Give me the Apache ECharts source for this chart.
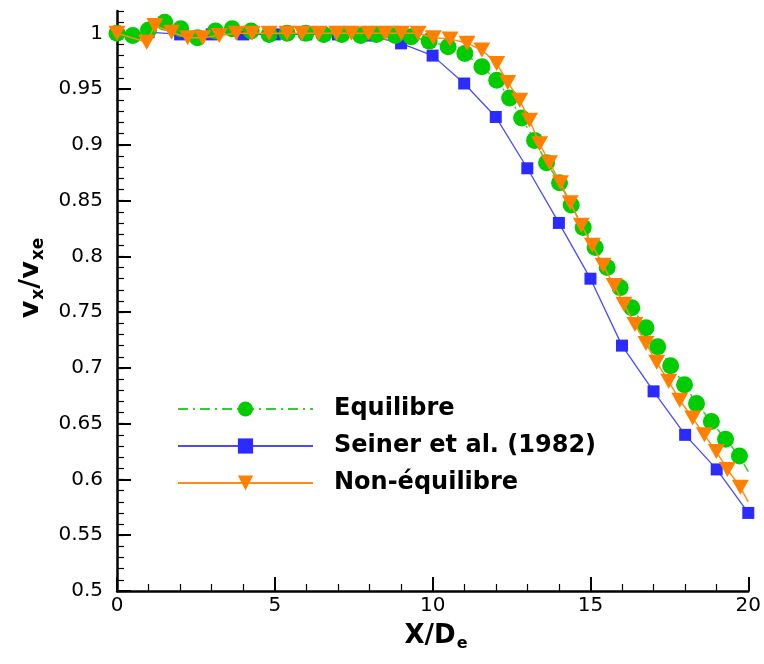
<!DOCTYPE html>
<html>
<head>
<meta charset="utf-8">
<script src="https://cdn.jsdelivr.net/npm/echarts@6/dist/echarts.min.js"></script>
<style>html,body{margin:0;padding:0;background:#fff}#c{width:764px;height:664px}</style>
</head>
<body>
<div id="c"></div>
<script>
// ---- data ----
const eqX  = [0,0.5,1.0,1.51,2.02,2.55,3.12,3.65,4.25,4.82,5.39,5.98,6.55,7.12,7.72,8.22,8.82,9.32,9.89,10.49,11.02,11.56,12.03,12.44,12.82,13.23,13.61,14.02,14.39,14.77,15.15,15.53,15.94,16.31,16.76,17.13,17.54,17.98,18.36,18.83,19.28,19.72,20.0];
const eqY  = [1.000,0.998,1.003,1.010,1.004,0.996,1.002,1.004,1.002,0.999,1.000,1.000,0.999,0.999,0.998,0.999,0.998,0.997,0.993,0.988,0.982,0.970,0.958,0.942,0.924,0.904,0.884,0.866,0.846,0.826,0.808,0.790,0.772,0.754,0.736,0.719,0.702,0.685,0.668,0.652,0.636,0.621,0.607];
const seinerX = [0,1,2,3,4,5,6,7,8,9,10,11,12,13,14,15,16,17,18,19,20];
const seinerY = [1.000,1.001,0.999,0.999,0.999,0.999,0.999,0.999,0.998,0.991,0.980,0.955,0.925,0.879,0.830,0.780,0.720,0.679,0.640,0.609,0.570];
const neqX = [0,0.94,1.20,1.73,2.24,2.71,3.24,3.78,4.28,4.82,5.39,5.86,6.39,6.96,7.43,7.97,8.50,9.01,9.54,10.02,10.55,11.09,11.56,12.03,12.38,12.76,13.07,13.39,13.70,14.05,14.36,14.71,15.06,15.40,15.75,16.06,16.41,16.76,17.10,17.48,17.83,18.24,18.61,18.99,19.34,19.75,20.0];
const neqY = [1.000,0.992,1.007,1.001,0.996,0.996,0.998,1.000,1.000,1.000,1.000,1.000,1.000,1.000,1.000,1.000,1.000,1.000,1.000,0.996,0.995,0.991,0.985,0.973,0.956,0.940,0.922,0.901,0.884,0.866,0.848,0.828,0.810,0.792,0.774,0.757,0.739,0.722,0.705,0.688,0.671,0.655,0.640,0.625,0.609,0.593,0.580];
const yTicks = [0.5,0.55,0.6,0.65,0.7,0.75,0.8,0.85,0.9,0.95,1.0];
const names = ['Equilibre','Seiner et al. (1982)','Non-équilibre'];

// last computed point of the CFD curves carries no symbol (line end only)
function pts(xs, ys, lastBare) {
  return xs.map((x, i) => (lastBare && i === xs.length - 1)
    ? { value: [x, ys[i]], symbol: 'none' }
    : [x, ys[i]]);
}

const FONT = '"DejaVu Sans", "Liberation Sans", Arial, sans-serif';
const chart = echarts.init(document.getElementById('c'), null, { renderer: 'canvas' });
chart.setOption({
  animation: false,
  backgroundColor: '#fff',
  grid: { left: 117, right: 12, top: 11, bottom: 73, containLabel: false },
  xAxis: {
    type: 'value', min: 0, max: 20, interval: 5,
    axisLine: { show: true, lineStyle: { color: '#000', width: 2.5 } },
    axisTick: { show: true, inside: true, length: 14, lineStyle: { color: '#000', width: 2 } },
    minorTick: { show: true, splitNumber: 5, length: 7, lineStyle: { color: '#000', width: 1.2 } },
    axisLabel: { color: '#000', fontSize: 20, fontFamily: FONT, margin: 5 },
    splitLine: { show: false }
  },
  yAxis: [{
    type: 'value', min: 0.5, max: 1.02,
    axisLine: { show: true, lineStyle: { color: '#000', width: 2.5 } },
    axisTick: { show: true, inside: true, length: 14, customValues: yTicks, lineStyle: { color: '#000', width: 2 } },
    axisLabel: { color: '#000', fontSize: 20, fontFamily: FONT, margin: 14, customValues: yTicks,
      formatter: v => String(+(+v).toFixed(2)) },
    splitLine: { show: false }
  }, {
    type: 'value', min: 0.5, max: 1.02, interval: 0.01, position: 'left', offset: 0,
    axisLine: { show: false },
    axisTick: { show: true, inside: true, length: 7, lineStyle: { color: '#000', width: 1.2 } },
    axisLabel: { show: false },
    splitLine: { show: false }
  }],
  legend: {
    orient: 'vertical', left: 172, top: 392,
    itemWidth: 135, itemHeight: 19, itemGap: 13,
    data: names,
    textStyle: { color: '#000', fontSize: 24, fontWeight: 'bold', fontFamily: FONT, padding: [0, 0, 0, 16] }
  },
  graphic: [
    { type: 'text', x: 436, y: 636, style: {
        text: '{b|X/D}{s|e}', textAlign: 'center', textVerticalAlign: 'middle',
        rich: { b: { fontSize: 26, fontWeight: 'bold', fontFamily: FONT, fill: '#000' },
                s: { fontSize: 16, fontWeight: 'bold', fontFamily: FONT, fill: '#000', padding: [16, 0, 0, 1] } } } },
    { type: 'text', x: 31, y: 278, rotation: Math.PI / 2, style: {
        text: '{b|v}{s|x}{b|/v}{s|xe}', textAlign: 'center', textVerticalAlign: 'middle',
        rich: { b: { fontSize: 27, fontWeight: 'bold', fontFamily: FONT, fill: '#000' },
                s: { fontSize: 17, fontWeight: 'bold', fontFamily: FONT, fill: '#000', padding: [16, 0, 0, 1] } } } }
  ],
  series: [
    { name: names[1], type: 'line', clip: false, z: 2,
      data: pts(seinerX, seinerY, false),
      symbol: 'rect', symbolSize: 12,
      itemStyle: { color: '#2b2bff' },
      lineStyle: { color: '#4a4aff', width: 1.3 } },
    { name: names[0], type: 'line', clip: false, z: 3,
      data: pts(eqX, eqY, true),
      symbol: 'circle', symbolSize: 17,
      itemStyle: { color: '#00cc00' },
      lineStyle: { color: '#33cc33', width: 1.5, type: [10, 5, 2, 5] } },
    { name: names[2], type: 'line', clip: false, z: 4,
      data: pts(neqX, neqY, true),
      symbol: 'triangle', symbolRotate: 180, symbolSize: [17, 15],
      itemStyle: { color: '#ff8000' },
      lineStyle: { color: '#ff8c1a', width: 1.5 } }
  ]
});
</script>
</body>
</html>
